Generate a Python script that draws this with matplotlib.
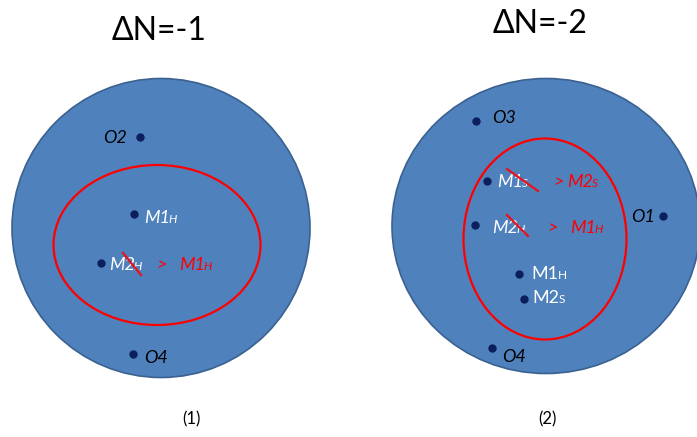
import matplotlib.pyplot as plt
from matplotlib.patches import Ellipse

plt.rcParams['font.family'] = ['Lato', 'DejaVu Sans']

W, H = 697, 437

# panel titles and captions: (x, y, text)
titles = [(159, 40, '\u0394N=-1'), (540, 33, '\u0394N=-2')]
captions = [(191, 424, '(1)'), (547, 424, '(2)')]

# outer circles and red ellipses: (cx, cy, width, height)
outer = [(161, 228, 298, 299), (546, 226, 308, 295)]
inner = [(157, 245, 207, 160), (545, 239, 163, 201)]

# node dots
dot_x = [140, 134, 101, 133, 476, 487, 475, 663, 519, 524, 492]
dot_y = [137, 214, 263, 354, 121, 181, 225, 216, 274, 299, 348]

# labels: x, baseline y, main text, subscript, colour, italic, align
labels = [
    (127, 143, 'O2', '', 'black', True, 'right'),
    (144, 223, 'M1', 'H', 'white', True, 'left'),
    (109, 270, 'M2', 'H', 'white', True, 'left'),
    (156, 270, '>', '', 'red', True, 'left'),
    (179, 270, 'M1', 'H', 'red', True, 'left'),
    (144, 363, 'O4', '', 'black', True, 'left'),
    (492, 123, 'O3', '', 'black', True, 'left'),
    (497, 187, 'M1', 'S', 'white', True, 'left'),
    (553, 187, '>', '', 'red', True, 'left'),
    (567, 187, 'M2', 'S', 'red', True, 'left'),
    (492, 233, 'M2', 'H', 'white', True, 'left'),
    (547, 233, '>', '', 'red', True, 'left'),
    (570, 233, 'M1', 'H', 'red', True, 'left'),
    (655, 222, 'O1', '', 'black', True, 'right'),
    (531, 279, 'M1', 'H', 'white', False, 'left'),
    (532, 303, 'M2', 'S', 'white', False, 'left'),
    (502, 362, 'O4', '', 'black', True, 'left'),
]

# red strike-through lines: (x0, y0, x1, y1)
strikes = [(123, 253, 141, 275), (507, 169, 538, 191), (507, 215, 528, 236)]

fig = plt.figure(figsize=(W / 100, H / 100), dpi=100)
ax = fig.add_axes([0, 0, 1, 1])
ax.set_xlim(0, W)
ax.set_ylim(H, 0)
ax.axis('off')

for cx, cy, w, h in outer:
    ax.add_patch(Ellipse((cx, cy), w, h, facecolor='#4F81BD', edgecolor='#3A6190', lw=1.2))
for cx, cy, w, h in inner:
    ax.add_patch(Ellipse((cx, cy), w, h, facecolor='none', edgecolor='#FF0000', lw=1.6))

ax.plot(dot_x, dot_y, 'o', color='#0B1F5C', ms=5, zorder=3)

for x0, y0, x1, y1 in strikes:
    ax.plot([x0, x1], [y0, y1], color='#E8121B', lw=1.6, zorder=4)

renderer = fig.canvas.get_renderer()
for x, y, main, sub, col, it, ha in labels:
    style = 'italic' if it else 'normal'
    t = ax.text(x, y, main, color=col, fontsize=13, style=style, ha=ha, va='baseline')
    if sub:
        bb = t.get_window_extent(renderer).transformed(ax.transData.inverted())
        gap = -1.5 if it else 0
        ax.text(bb.x1 + gap, y, sub, color=col, fontsize=8.5, style=style, ha='left', va='baseline')

for x, y, s in titles:
    ax.text(x, y, s, fontsize=23, ha='center', va='baseline')
for x, y, s in captions:
    ax.text(x, y, s, fontsize=12, ha='center', va='baseline')

fig.savefig('out.png', dpi=100)
